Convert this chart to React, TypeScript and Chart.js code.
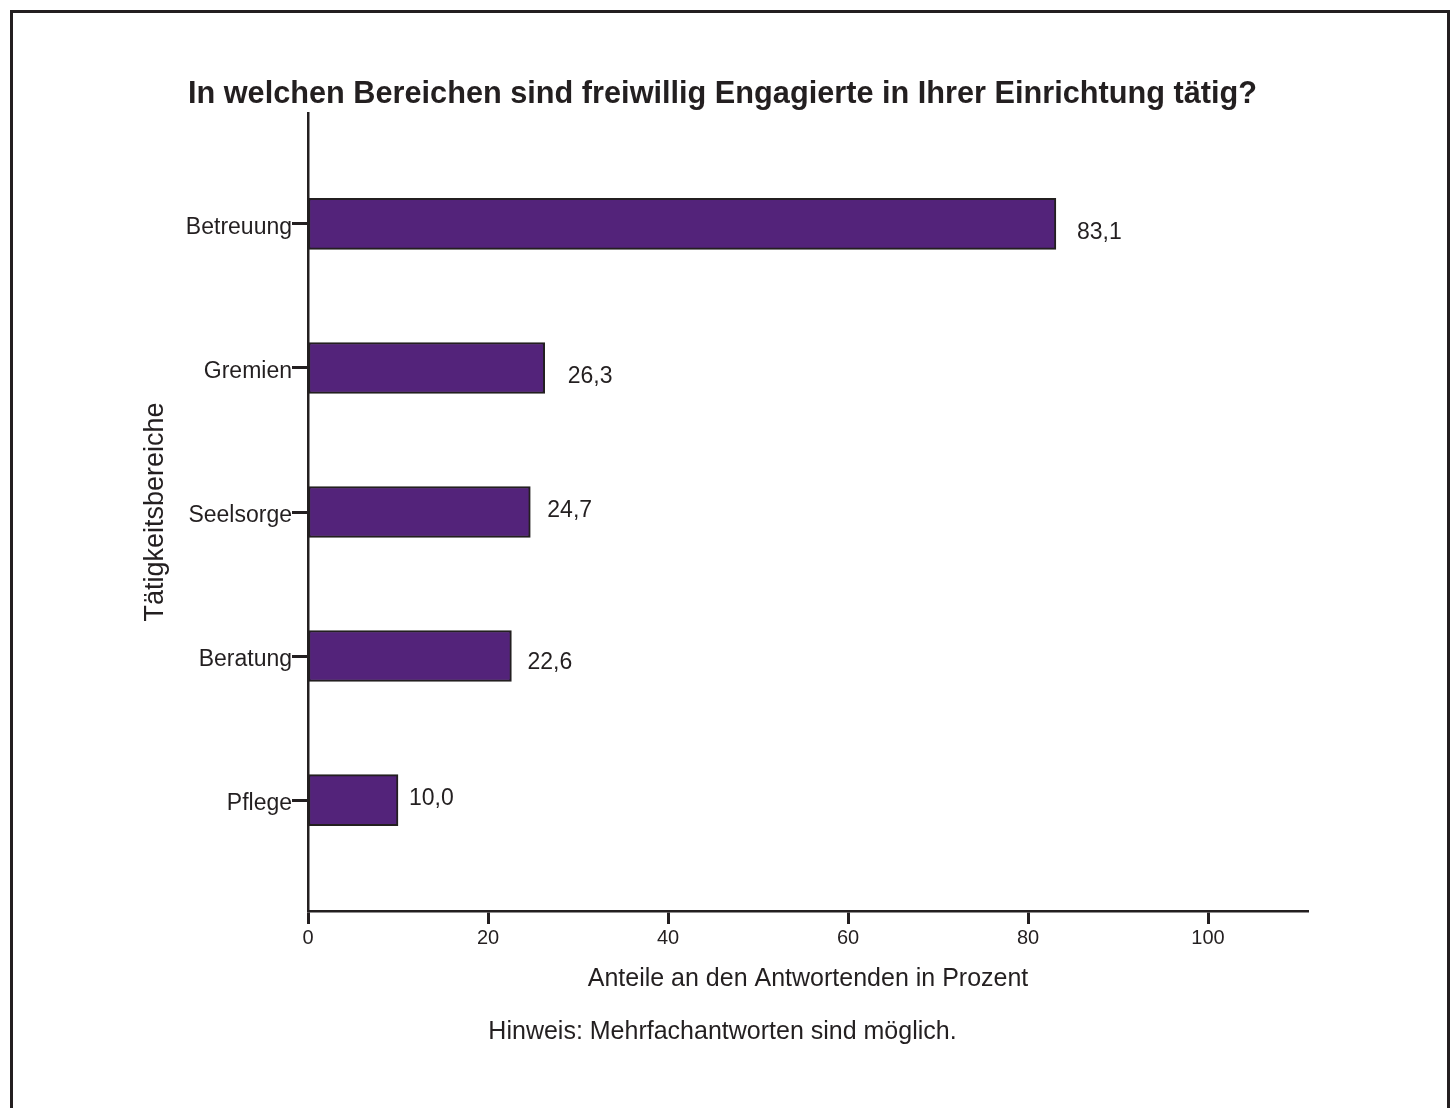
import React, { useEffect, useRef } from "react";
import { Chart, registerables } from "chart.js";

Chart.register(...registerables);

const titleText = "In welchen Bereichen sind freiwillig Engagierte in Ihrer Einrichtung tätig?";
const noteText = "Hinweis: Mehrfachantworten sind möglich.";
const xAxisTitle = "Anteile an den Antwortenden in Prozent";
const yAxisTitle = "Tätigkeitsbereiche";

const categories = ["Betreuung", "Gremien", "Seelsorge", "Beratung", "Pflege"];
const shares = [83.1, 26.3, 24.7, 22.6, 10.0];
const xTickValues = [0, 20, 40, 60, 80, 100];

// small nudges of the value labels relative to each bar end (as in the original)
const labelNudgeX = [21, 23, 17, 16, 11];
const labelNudgeY = [9, 9, -1, 7, -1];

const INK = "#231f20";
const PURPLE = "#53237a";
const FONT = "'Liberation Sans', Arial, Helvetica, sans-serif";

const valueLabels = {
  id: "valueLabels",
  afterDatasetsDraw(chart: any) {
    const ctx = chart.ctx;
    const meta = chart.getDatasetMeta(0);
    ctx.save();
    ctx.font = `23px ${FONT}`;
    ctx.fillStyle = INK;
    ctx.textAlign = "left";
    ctx.textBaseline = "middle";
    meta.data.forEach((el: any, i: number) => {
      const txt = shares[i].toFixed(1).replace(".", ",");
      ctx.fillText(txt, el.x + labelNudgeX[i], el.y + labelNudgeY[i]);
    });
    ctx.restore();
  },
};

export default function App() {
  const canvasRef = useRef<HTMLCanvasElement | null>(null);

  useEffect(() => {
    if (!canvasRef.current) return;
    const chart = new Chart(canvasRef.current, {
      type: "bar",
      data: {
        datasets: [
          {
            data: shares.map((v, i) => ({ x: v, y: i })),
            backgroundColor: PURPLE,
            borderColor: INK,
            borderWidth: 2,
            borderSkipped: false,
            barThickness: 51,
          },
        ],
      },
      options: {
        indexAxis: "y",
        animation: false,
        responsive: false,
        maintainAspectRatio: false,
        layout: { padding: { left: 137, right: 148, top: 0, bottom: 0 } },
        plugins: {
          legend: { display: false },
          tooltip: { enabled: false },
          title: {
            display: true,
            text: titleText,
            color: INK,
            font: { family: FONT, size: 30.7, weight: "bold", lineHeight: 1 },
            padding: { top: 79.5, bottom: 2.8 },
          },
          subtitle: {
            display: true,
            position: "bottom",
            text: noteText,
            color: INK,
            font: { family: FONT, size: 25 },
            padding: { top: 23, bottom: 61 },
          },
        },
        scales: {
          x: {
            type: "linear",
            position: "bottom",
            min: 0,
            max: 111.11,
            afterBuildTicks: (scale: any) => {
              scale.ticks = xTickValues.map((v) => ({ value: v }));
            },
            afterFit: (scale: any) => {
              scale.height = 83;
            },
            grid: {
              display: true,
              drawOnChartArea: false,
              drawTicks: true,
              tickLength: 13,
              tickWidth: 3,
              tickColor: INK,
            },
            border: { display: true, color: INK, width: 2.5 },
            ticks: {
              color: INK,
              font: { family: FONT, size: 20 },
              padding: 2,
              maxRotation: 0,
              autoSkip: false,
            },
            title: {
              display: true,
              text: xAxisTitle,
              color: INK,
              font: { family: FONT, size: 25 },
              padding: { top: 0, bottom: 0 },
            },
          },
          y: {
            type: "linear",
            position: "left",
            reverse: true,
            offset: false,
            min: -0.77,
            max: 4.77,
            afterBuildTicks: (scale: any) => {
              scale.ticks = categories.map((_, i) => ({ value: i }));
            },
            afterFit: (scale: any) => {
              scale.width = 171;
            },
            grid: {
              display: true,
              offset: false,
              drawOnChartArea: false,
              drawTicks: true,
              tickLength: 16,
              tickWidth: 3,
              tickColor: INK,
            },
            border: { display: true, color: INK, width: 2.5 },
            ticks: {
              color: INK,
              font: { family: FONT, size: 23, lineHeight: 0.35 },
              padding: 0,
              autoSkip: false,
              // leading empty line nudges the label slightly below the tick, as in the original
              callback: (value: any) => ["", categories[Number(value)] ?? ""],
            },
            title: {
              display: true,
              text: yAxisTitle,
              color: INK,
              font: { family: FONT, size: 27 },
              padding: { top: 2, bottom: 0 },
            },
          },
        },
      },
      plugins: [valueLabels],
    } as any);
    return () => chart.destroy();
  }, []);

  return (
    <div
      style={{
        position: "absolute",
        left: 0,
        top: 0,
        width: 1456,
        height: 1108,
        overflow: "hidden",
        background: "#ffffff",
      }}
    >
      <canvas
        ref={canvasRef}
        width={1456}
        height={1108}
        style={{ position: "absolute", left: 0, top: 0, width: 1456, height: 1108 }}
      />
      <div
        style={{
          position: "absolute",
          left: 10,
          top: 10,
          width: 1440,
          height: 1098,
          boxSizing: "border-box",
          borderTop: `3px solid ${INK}`,
          borderLeft: `3px solid ${INK}`,
          borderRight: `3px solid ${INK}`,
          pointerEvents: "none",
        }}
      />
    </div>
  );
}
